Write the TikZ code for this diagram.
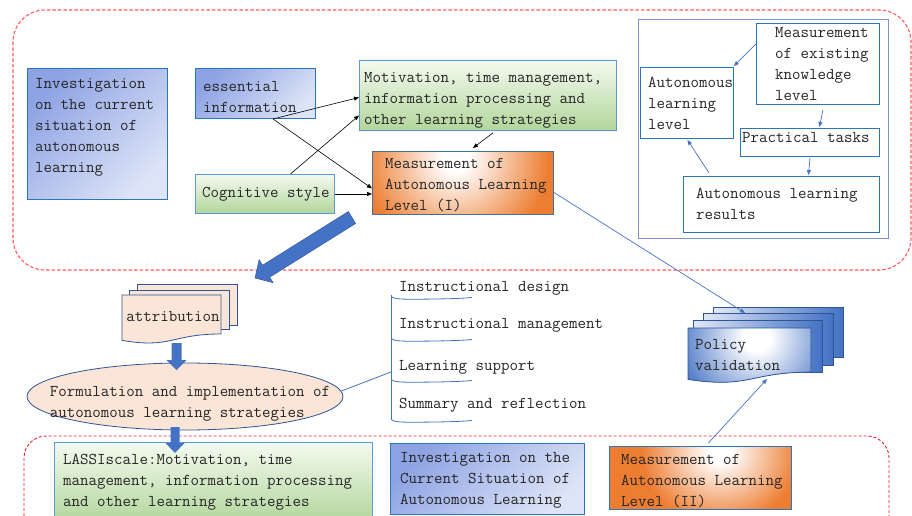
\documentclass[tikz,border=0pt]{standalone}
\usetikzlibrary{arrows.meta,shapes.geometric,calc}

\definecolor{blTL}{HTML}{8EA3E4}
\definecolor{blBR}{HTML}{DDE4F7}
\definecolor{bdBlue}{HTML}{2E75B6}
\definecolor{bdLight}{HTML}{5B9BD5}
\definecolor{bdSlate}{HTML}{41719C}
\definecolor{grTop}{HTML}{F4FAF0}
\definecolor{grBot}{HTML}{B2D69B}
\definecolor{orgA}{HTML}{ED7D31}
\definecolor{peach}{HTML}{FBE5D6}
\definecolor{navy}{HTML}{2F5597}
\definecolor{blA}{HTML}{4472C4}
\definecolor{panelC}{HTML}{7A93C8}
\definecolor{redTop}{HTML}{FF5A5A}
\definecolor{redBot}{HTML}{E8232A}
\definecolor{pvLight}{HTML}{E2E8F6}

% radial glows; the circle they fill reaches 25bp
\pgfdeclareradialshading{glowor}{\pgfpointorigin}{color(0bp)=(white); color(2.5bp)=(white); color(18bp)=(orgA); color(50bp)=(orgA)}
\pgfdeclareradialshading{glowbl}{\pgfpointorigin}{color(0bp)=(white); color(3bp)=(white); color(19bp)=(blA); color(50bp)=(blA)}

\newcommand\diagfont{\ttfamily\fontsize{16.5}{21}\selectfont}

% document symbol with a wavy lower edge: options, left, top, width, height
\newcommand\docshape[5]{%
  \path[#1] (#2,#3) -- ({#2+#4},#3) -- ({#2+#4},{#3+0.802*#5})
    .. controls ({#2+0.5*#4},{#3+0.802*#5}) and ({#2+0.5*#4},{#3+1.107*#5}) ..
    (#2,{#3+0.934*#5}) -- cycle;}

% thick downward block arrow: centre x, top, head base, tip, shaft half width, head half width
\newcommand\blockdown[6]{%
  \fill[blA] ({#1-#5},#2) -- ({#1+#5},#2) -- ({#1+#5},#3) -- ({#1+#6},#3)
    -- (#1,#4) -- ({#1-#6},#3) -- ({#1-#5},#3) -- cycle;}

\begin{document}
\begin{tikzpicture}[x=1pt, y=-1pt,
  txt/.style={font=\diagfont, text=black!85, inner sep=0pt, align=left},
  boxb/.style={draw=bdBlue, line width=0.9pt, top color=blTL, bottom color=blBR, shading angle=45},
  boxg/.style={draw=bdLight, line width=0.9pt, top color=grTop, bottom color=grBot},
  boxo/.style={line width=0.9pt, fill=orgA},
  glow/.style n args={3}{path picture={\shade[shading=glowor]
      ($(path picture bounding box.north west)+(#1,#2)$) circle (#3);}},
  boxw/.style={draw=bdBlue, line width=0.9pt, fill=white},
  arr/.style={-{Triangle[length=5pt,width=4pt]}, line width=0.6pt, black},
  barr/.style={-{Triangle[length=5pt,width=4pt]}, line width=0.7pt, blA},
  brkline/.style={line width=0.8pt, blA},
  doc/.style={draw=navy, line width=0.8pt},
  ]
\useasboundingbox (0,0) rectangle (912,516);

% dashed group frames
\draw[redTop, line width=1.1pt, dash pattern=on 3.5pt off 2pt, rounded corners=32] (13,10) rectangle (911,270);
\draw[redBot, line width=0.9pt, dash pattern=on 3pt off 2pt, rounded corners=22] (24,436) rectangle (889,545);

% upper group
\node[boxb, anchor=north west, minimum width=140, minimum height=131,
  label={[txt, anchor=north west, xshift=8, yshift=-5.5]north west:{\strut Investigation\\on the current\\situation of\\autonomous\\learning}}]
  (inv1) at (27,68) {};
\node[boxb, anchor=north west, minimum width=120, minimum height=50,
  label={[txt, anchor=north west, xshift=8, yshift=-8.5]north west:{\strut essential\\information}}]
  (ess) at (195,68) {};
\node[boxg, anchor=north west, minimum width=139, minimum height=39,
  label={[txt, anchor=north west, xshift=7, yshift=-8.5]north west:{\strut Cognitive style}}]
  (cog) at (195,174) {};
\node[boxg, anchor=north west, minimum width=257, minimum height=70,
  label={[txt, anchor=north west, xshift=5, yshift=-7.5]north west:{\strut Motivation, time management,\\information processing and\\other learning strategies}}]
  (mot) at (359,60) {};
\node[boxo, draw=bdSlate, glow={83}{7}{130}, anchor=north west, minimum width=181, minimum height=63,
  label={[txt, anchor=north west, xshift=13, yshift=-2.5]north west:{\strut Measurement of\\Autonomous Learning\\Level (I)}}]
  (m1) at (372,151) {};

% knowledge-level panel
\node[draw=panelC, line width=1.3pt, fill=white, anchor=north west, minimum width=250, minimum height=219] (panel) at (638,19) {};
\node[boxw, anchor=north west, minimum width=123, minimum height=81,
  label={[txt, anchor=north west, xshift=19, yshift=0]north west:{\strut Measurement\\of existing\\knowledge\\level}}]
  (kb) at (756,23) {};
\node[boxw, anchor=north west, minimum width=93, minimum height=71,
  label={[txt, anchor=north west, xshift=8, yshift=-5.5]north west:{\strut Autonomous\\learning\\level}}]
  (all) at (640,67) {};
\node[boxw, anchor=north west, minimum width=139, minimum height=28,
  label={[txt, anchor=north west, xshift=2, yshift=0]north west:{\strut Practical tasks}}]
  (pt) at (740,128) {};
\node[boxw, anchor=north west, minimum width=196, minimum height=56,
  label={[txt, anchor=north west, xshift=13, yshift=-7.5]north west:{\strut Autonomous learning\\results}}]
  (res) at (683,176) {};

\draw[barr] ($(kb.west)+(0,-20)$) -- ($(all.north east)+(0,-1)$);
\draw[barr] ($(kb.south)+(5,5)$) -- ($(pt.north)+(9.5,-1)$);
\draw[barr] ($(pt.south)+(0,1)$) -- ($(res.north)+(27,-1)$);
\draw[barr] ($(res.north west)+(26,-3)$) -- ($(all.south)+(0.5,1)$);

% connectors of the upper group
\coordinate (essout) at (273,119);
\draw[arr] (essout) -- ($(mot.west)+(0,2)$);
\draw[arr] (essout) -- ($(m1.west)+(0,5.5)$);
\draw[arr] ($(cog.north)+(25.5,0)$) -- ($(mot.west)+(0,20)$);
\draw[arr] (cog.east) -- (cog.east -| m1.west);
\draw[arr] ($(mot.south)+(5,2)$) -- ($(m1.north)+(10,-3)$);

% broad arrow down to the attribution stack
\draw[fill=blA, draw=blA!80!black, line width=0.5pt]
  (348.4,211.5) -- (355.6,223.5) -- (269.7,277.2) -- (273.1,282.7) -- (255,278)
  -- (259.1,259.7) -- (262.5,265.2) -- cycle;

% attribution stack
\draw[doc, fill=peach] (137,284) rectangle (237,325);
\draw[doc, fill=peach] (129,290) rectangle (229,329);
\docshape{doc, fill=peach}{122}{295}{99}{48.6}
\node[txt] (att) at (173,317) {\strut attribution};

% strategy ellipse
\node[ellipse, draw=navy, line width=0.8pt, fill=peach, minimum width=316, minimum height=67, inner sep=0pt,
  label={[txt, anchor=north west, xshift=23, yshift=15]west:{\strut Formulation and implementation of\\autonomous learning strategies}}]
  (ell) at (185,396.5) {};

\blockdown{176.5}{343}{360}{370}{5}{10}

% bracket list of strategy parts
\draw[brkline] (391,295) -- (391,420);
\foreach \yy in {296,338,379,419}
  \draw[brkline] (391,\yy) .. controls (392,\yy+2.5) and (398,\yy+3.2) .. (410,\yy+3.2)
    .. controls (440,\yy+3.2) and (462,\yy+2.5) .. (472,\yy+1.5);
\node[txt, anchor=west] (l1) at (399,287) {\strut Instructional design};
\node[txt, anchor=west] (l2) at (399,324) {\strut Instructional management};
\node[txt, anchor=west] (l3) at (399,366) {\strut Learning support};
\node[txt, anchor=west] (l4) at (399,404) {\strut Summary and reflection};
\coordinate (brk) at (391,372);
\draw[brkline] (ell.2) -- (brk);

% policy validation stack
\draw[doc, left color=pvLight, right color=blA] (713,307) rectangle (843,357);
\draw[doc, left color=pvLight, right color=blA] (703,313) rectangle (833,365);
\draw[doc, left color=pvLight, right color=blA] (693,320) rectangle (822,372);
\docshape{doc, fill=blA, path picture={\shade[shading=glowbl] (757,338) circle (110);}}{688}{328}{123}{55}
\node[txt, anchor=north west] (pol) at (695,334.5) {\strut Policy\\validation};
\coordinate (pvin) at (745,313);
\coordinate (pvout) at (767,379);

% lower group
\node[boxg, anchor=north west, minimum width=318, minimum height=80,
  label={[txt, anchor=north west, xshift=9, yshift=-7.5]north west:{\strut LASSIscale:Motivation, time\\management, information processing\\and other learning strategies}}]
  (lassi) at (54,442) {};
\node[boxb, anchor=north west, minimum width=194, minimum height=71,
  label={[txt, anchor=north west, xshift=10, yshift=-4.5]north west:{\strut Investigation on the\\Current Situation of\\Autonomous Learning}}]
  (inv2) at (390,443) {};
\node[boxo, draw=bdBlue, glow={121}{6}{100}, anchor=north west, minimum width=182, minimum height=63,
  label={[txt, anchor=north west, xshift=12, yshift=-3.5]north west:{\strut Measurement of\\Autonomous Learning\\Level (II)}}]
  (lvl2) at (609,446) {};

\blockdown{175}{427}{443}{453}{4.5}{9.5}

% links to policy validation
\draw[barr] ($(m1.east)+(0,9.5)$) -- (pvin);
\draw[barr] ($(lvl2.north)+(8,-3)$) -- (pvout);
\end{tikzpicture}
\end{document}
